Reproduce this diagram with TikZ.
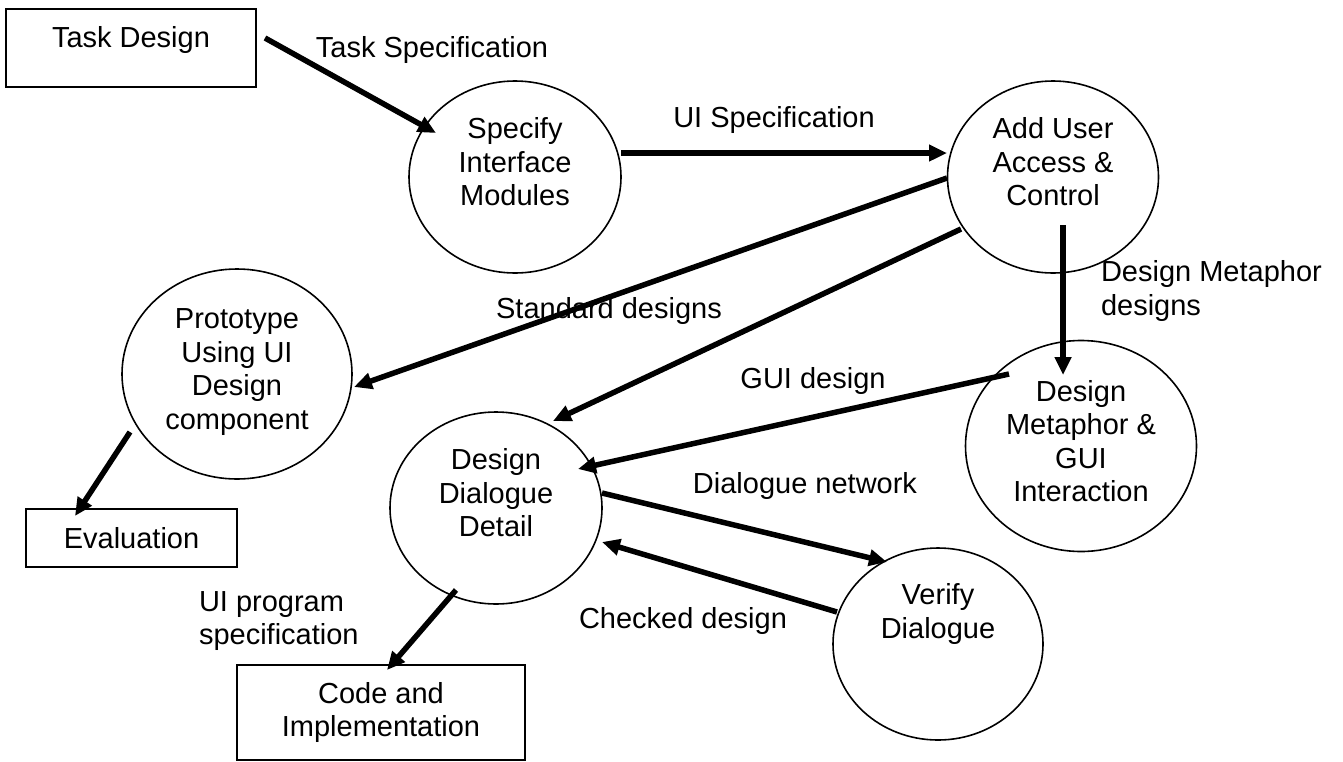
\documentclass[tikz,border=0pt]{standalone}
\usepackage{fontspec}
\setmainfont{Liberation Sans}
\usetikzlibrary{shapes.geometric,arrows.meta,calc}
\begin{document}
\begin{tikzpicture}[x=1pt,y=-1pt,
  every node/.style={font=\fontsize{29}{33.5}\selectfont, inner sep=0pt, outer sep=0pt},
  proc/.style={ellipse, draw, line width=1.6pt},
  boxnode/.style={rectangle, draw, line width=2pt},
  flow/.style={line width=5.5pt, -{Triangle[length=18pt,width=16pt]}},
  lbl/.style={align=center},
  ltext/.style={align=left, anchor=west}]
\useasboundingbox (0,0) rectangle (1343,761);
% nodes
\node[boxnode, minimum width=250pt, minimum height=78pt,
      label={[lbl,yshift=8pt]center:Task Design}] (task) at (131,48) {};
\node[proc, minimum width=212pt, minimum height=192pt,
      label={[lbl,yshift=15pt]center:Specify\\Interface\\Modules}] (spec) at (515,177) {};
\node[proc, minimum width=211pt, minimum height=192pt,
      label={[lbl,yshift=15pt]center:Add User\\Access \&\\Control}] (addu) at (1053,177) {};
\node[proc, minimum width=230pt, minimum height=210pt,
      label={[lbl,yshift=2pt]center:Prototype\\Using UI\\Design\\component}] (proto) at (237,374) {};
\node[proc, minimum width=212pt, minimum height=192pt,
      label={[lbl,yshift=15pt]center:Design\\Dialogue\\Detail}] (ddd) at (496,508) {};
\node[proc, minimum width=231pt, minimum height=211pt,
      label={[lbl,yshift=5pt]center:Design\\Metaphor \&\\GUI\\Interaction}] (dmg) at (1081,446) {};
\node[proc, minimum width=210pt, minimum height=192pt,
      label={[lbl,yshift=30pt]center:Verify\\Dialogue}] (ver) at (938,644) {};
\node[boxnode, minimum width=211pt, minimum height=58pt,
      label={[lbl]center:Evaluation}] (eval) at (131.5,538) {};
\node[boxnode, minimum width=288pt, minimum height=95pt,
      label={[lbl]center:Code and\\Implementation}] (code) at (381,712.5) {};
% connector labels
\node (ltask) at (432,50) {Task Specification};
\node (lui) at (774,120) {UI Specification};
\node (lstd) at (609,311) {Standard designs};
\node[ltext] (lmeta) at (1101,291) {Design Metaphor\\designs};
\node (lgui) at (813,381) {GUI design};
\node (lnet) at (805,486) {Dialogue network};
\node (lchk) at (683,621) {Checked design};
\node[ltext] (lprog) at (199,621) {UI program\\specification};
% connectors
\draw[flow] ($(task)+(134,-10)$) -- ($(spec)+(-79,-44)$);
\draw[flow] ($(spec)+(106,-24)$) -- ($(addu)+(-106,-24)$);
\draw[flow] ($(addu)+(-106,1)$) -- ($(proto)+(117,13)$);
\draw[flow] ($(addu)+(-92,52)$) -- ($(ddd)+(57,-87)$);
\draw[flow] ($(addu)+(10,48)$) -- ($(dmg)+(-18,-71)$);
\draw[flow] ($(dmg)+(-72,-72)$) -- ($(ddd)+(82,-39)$);
\draw[flow] ($(ddd)+(106,-15)$) -- ($(ver)+(-51,-82)$);
\draw[flow] ($(ver)+(-101,-32)$) -- ($(ddd)+(106,34)$);
\draw[flow] ($(proto)+(-107,58)$) -- ($(eval)+(-56.5,-22)$);
\draw[flow] ($(ddd)+(-40,82)$) -- ($(code)+(6,-42.5)$);
\end{tikzpicture}
\end{document}
